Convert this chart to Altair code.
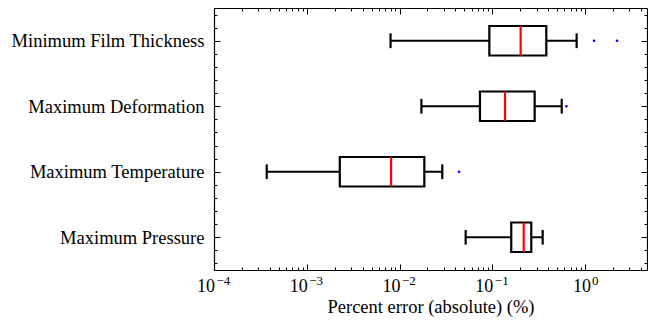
import altair as alt
import pandas as pd

# ---- data ----
categories = ["Maximum Pressure", "Maximum Temperature", "Maximum Deformation", "Minimum Film Thickness"]
positions = [1, 2, 3, 4]
whisker_lo = [0.0516, 0.00037, 0.0172, 0.0080]
q1_vals = [0.160, 0.00227, 0.0736, 0.0929]
median_vals = [0.218, 0.0081, 0.137, 0.202]
q3_vals = [0.263, 0.0185, 0.286, 0.382]
whisker_hi = [0.349, 0.0289, 0.560, 0.811]

outlier_pos = [2, 3, 4, 4]
outlier_vals = [0.0438, 0.628, 1.25, 2.21]

decade_values = [1e-4, 1e-3, 1e-2, 1e-1, 1e0]
decade_base = "10"
decade_exponents = ["−4", "−3", "−2", "−1", "0"]
x_tick_values = [m * 10.0 ** e for e in range(-4, 0) for m in range(1, 10)] + [1.0, 2.0, 3.0, 4.0]
y_tick_values = [0.6, 0.8, 1.0, 1.2, 1.4, 1.6, 1.8, 2.0, 2.2, 2.4, 2.6, 2.8, 3.0,
                 3.2, 3.4, 3.6, 3.8, 4.0, 4.2, 4.4]

# ---- layout ----
W, H = 433, 262
FONT = "Liberation Serif"
box_half = 0.225
cap_half = 0.1125
LW = 2.2

df = pd.DataFrame(dict(cat=categories, pos=positions, lo=whisker_lo, q1=q1_vals,
                       med=median_vals, q3=q3_vals, hi=whisker_hi))
out_df = pd.DataFrame(dict(pos=outlier_pos, val=outlier_vals))

xscale = alt.Scale(type="log", domain=[1e-4, 4.65], nice=False)
yscale = alt.Scale(domain=[0.5, 4.5], nice=False, zero=False)

# label expressions
x_exp_expr = "''"
for v, lab in reversed(list(zip(decade_values, decade_exponents))):
    x_exp_expr = f"abs(datum.value - {v}) < {v}*0.01 ? '{lab}' : ({x_exp_expr})"
y_expr = "''"
for p, c in reversed(list(zip(positions, categories))):
    y_expr = f"datum.value == {p} ? '{c}' : ({y_expr})"

is_one = "abs(datum.value - 1) < 0.01"
major_x = "abs(log(datum.value)/LN10 - round(log(datum.value)/LN10)) < 0.001"
major_y = "abs(datum.value - round(datum.value)) < 0.01"
tick_x = {"condition": {"test": major_x, "value": 6}, "value": 3}
tick_y = {"condition": {"test": major_y, "value": 6}, "value": 3}

axis_x_main = alt.Axis(orient="bottom", values=decade_values, labelExpr=f"'{decade_base}'",
                       ticks=False, domain=True, domainColor="black", domainWidth=1.2, grid=False,
                       title="Percent error (absolute) (%)", labelFont=FONT, titleFont=FONT,
                       labelFontSize=18, titleFontSize=18.5, titleFontWeight="normal",
                       labelColor="black", titleColor="black", labelPadding=7, titlePadding=2,
                       labelAlign="right",
                       labelOffset={"condition": {"test": is_one, "value": 5.5}, "value": 0.5},
                       labelFlush=False, labelOverlap=False)
axis_x_exp = alt.Axis(orient="bottom", values=decade_values, labelExpr=x_exp_expr,
                      ticks=False, domain=False, grid=False, title=None, labelFont=FONT,
                      labelFontSize=13, labelColor="black", labelPadding=4.2, labelAlign="left",
                      labelOffset={"condition": {"test": is_one, "value": 6.5}, "value": 2},
                      labelFlush=False, labelOverlap=False)
axis_x_in_bottom = alt.Axis(orient="top", offset=-H, values=x_tick_values, labels=False,
                            domain=False, grid=False, title=None, tickSize=tick_x,
                            tickColor="black", tickWidth=1)
axis_x_in_top = alt.Axis(orient="bottom", offset=-H, values=x_tick_values, labels=False,
                         domain=True, domainColor="black", domainWidth=1.2, grid=False,
                         title=None, tickSize=tick_x, tickColor="black", tickWidth=1)

axis_y_main = alt.Axis(orient="left", values=positions, labelExpr=y_expr, ticks=False,
                       domain=True, domainColor="black", domainWidth=1.2, grid=False,
                       title=None, labelFont=FONT, labelFontSize=18.5, labelColor="black",
                       labelPadding=10, labelOverlap=False, labelLimit=0)
axis_y_in_left = alt.Axis(orient="right", offset=-W, values=y_tick_values, labels=False,
                          domain=False, grid=False, title=None, tickSize=tick_y,
                          tickColor="black", tickWidth=1)
axis_y_in_right = alt.Axis(orient="left", offset=-W, values=y_tick_values, labels=False,
                           domain=True, domainColor="black", domainWidth=1.2, grid=False,
                           title=None, tickSize=tick_y, tickColor="black", tickWidth=1)

base = alt.Chart(df)

whiskers = base.mark_rule(color="black", strokeWidth=LW).encode(
    x=alt.X("lo:Q", scale=xscale, axis=axis_x_main),
    x2="hi:Q",
    y=alt.Y("pos:Q", scale=yscale, axis=axis_y_main),
)

boxes = base.transform_calculate(
    y1=f"datum.pos - {box_half}", y2=f"datum.pos + {box_half}"
).mark_rect(fill="white", stroke="black", strokeWidth=LW).encode(
    x=alt.X("q1:Q", scale=xscale, axis=axis_x_in_bottom),
    x2="q3:Q",
    y=alt.Y("y1:Q", scale=yscale, axis=axis_y_in_left),
    y2="y2:Q",
)

caps = base.transform_fold(["lo", "hi"], as_=["which", "v"]).transform_calculate(
    c1=f"datum.pos - {cap_half}", c2=f"datum.pos + {cap_half}"
).mark_rule(color="black", strokeWidth=LW).encode(
    x=alt.X("v:Q", scale=xscale, axis=axis_x_in_top),
    y=alt.Y("c1:Q", scale=yscale, axis=axis_y_in_right),
    y2="c2:Q",
)

medians = base.transform_calculate(
    y1=f"datum.pos - {box_half}", y2=f"datum.pos + {box_half}"
).mark_rule(color="#ff0000", strokeWidth=LW).encode(
    x=alt.X("med:Q", scale=xscale, axis=axis_x_exp),
    y=alt.Y("y1:Q", scale=yscale, axis=None),
    y2="y2:Q",
)

outliers = alt.Chart(out_df).mark_circle(size=7, color="#0000ff", opacity=1).encode(
    x=alt.X("val:Q", scale=xscale, axis=None),
    y=alt.Y("pos:Q", scale=yscale, axis=None),
)

chart = alt.layer(whiskers, boxes, caps, medians, outliers).resolve_axis(
    x="independent", y="independent"
).properties(
    width=W, height=H, autosize="none",
    padding={"left": 214, "top": 8, "right": 1, "bottom": 57},
).configure_view(stroke=None)

chart.save("out.html", embed_options={"renderer": "svg", "actions": False})
